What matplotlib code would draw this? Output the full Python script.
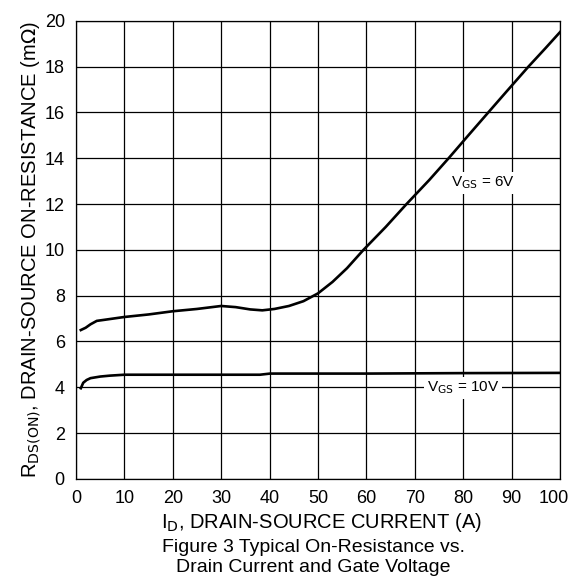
import numpy as np
import matplotlib.pyplot as plt
import matplotlib.transforms as mtransforms

plt.rcParams['font.family'] = ['Liberation Sans', 'DejaVu Sans']

# VGS = 6V curve
id_6v = [1, 2, 3, 4.3, 6, 10, 15, 20, 25, 30, 33, 36, 38.5, 41, 44, 47, 50, 53, 56, 59.4, 64, 68.3, 73, 77, 81, 85.2, 89, 93.5, 97, 100]
r_6v = [6.5, 6.6, 6.75, 6.9, 6.95, 7.07, 7.18, 7.32, 7.42, 7.55, 7.5, 7.4, 7.36, 7.42, 7.55, 7.76, 8.1, 8.6, 9.2, 10.0, 11.0, 12.0, 13.05, 14.0, 14.98, 16.0, 16.92, 18.0, 18.8, 19.5]

# VGS = 10V curve
id_10v = [1, 1.5, 2.2, 3, 5, 7, 10, 20, 30, 38, 40.1, 60, 80, 100]
r_10v = [3.96, 4.2, 4.32, 4.4, 4.47, 4.51, 4.55, 4.55, 4.55, 4.55, 4.6, 4.6, 4.62, 4.63]

fig = plt.figure(figsize=(5.73, 5.88), dpi=100)
ax = fig.add_axes([0.1326, 0.1854, 0.8447, 0.7794])

ax.plot(id_6v, r_6v, color='black', lw=1.9, zorder=3)
ax.plot(id_10v, r_10v, color='black', lw=1.9, zorder=3)

ax.set_xlim(0, 100)
ax.set_ylim(0, 20)
ax.set_xticks(np.arange(0, 101, 10))
ax.set_yticks(np.arange(0, 21, 2))
ax.grid(True, color='black', lw=0.9)
ax.tick_params(length=0, labelsize=13, pad=8)
for s in ax.spines.values():
    s.set_linewidth(0.9)

# pull the "100" label in a little so it stays inside the figure
last = ax.get_xticklabels()[-1]
last.set_transform(last.get_transform() + mtransforms.ScaledTranslation(-6 / 100, 0, fig.dpi_scale_trans))

ax.text(84.0, 12.93, r'V$_{\rm GS}$ = 6V', fontsize=11, ha='center', va='center',
        bbox=dict(facecolor='white', edgecolor='none', pad=2), zorder=4)
ax.text(80, 3.97, r'V$_{\rm GS}$ = 10V', fontsize=11, ha='center', va='center',
        bbox=dict(facecolor='white', edgecolor='none', pad=2), zorder=4)

ax.set_ylabel(r'R$_{\rm DS(ON)}$, DRAIN-SOURCE ON-RESISTANCE (m$\Omega$)', fontsize=14.5, labelpad=1)
fig.text(321 / 573, 1 - 523 / 588, r'I$_{\rm D}$, DRAIN-SOURCE CURRENT (A)', fontsize=14.5, ha='center', va='center')
fig.text(313 / 573, 1 - 548 / 588, 'Figure 3 Typical On-Resistance vs.', fontsize=14, ha='center', va='center')
fig.text(313 / 573, 1 - 568 / 588, 'Drain Current and Gate Voltage', fontsize=14, ha='center', va='center')

fig.savefig('out.png', dpi=100)
